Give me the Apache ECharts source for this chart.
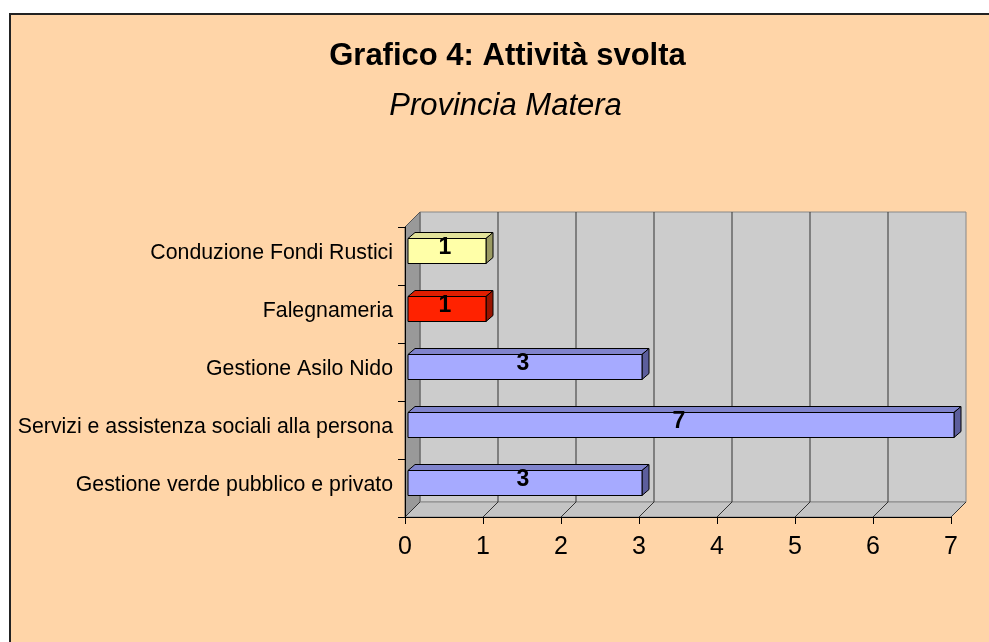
<!DOCTYPE html>
<html>
<head>
<meta charset="utf-8">
<script src="https://cdn.jsdelivr.net/npm/echarts@6/dist/echarts.min.js"></script>
<style>html,body{margin:0;padding:0;background:#fff}#c{width:989px;height:642px}</style>
</head>
<body>
<div id="c"></div>
<script>
const categories = ['Conduzione Fondi Rustici', 'Falegnameria', 'Gestione Asilo Nido', 'Servizi e assistenza sociali alla persona', 'Gestione verde pubblico e privato'];
const values = [1, 1, 3, 7, 3];
const titleText = 'Grafico 4: Attività svolta';
const subtitleText = 'Provincia Matera';

const faceFront = ['#FFFFA8', '#FF2200', '#A6AAFF', '#A6AAFF', '#A6AAFF'];
const faceTop = ['#E2E29A', '#E01E00', '#8084CC', '#8084CC', '#8084CC'];
const faceSide = ['#9A9A62', '#991400', '#5C5E9C', '#5C5E9C', '#5C5E9C'];

const FONT = '"Liberation Sans", Arial, sans-serif';
const D = 15;

const chart = echarts.init(document.getElementById('c'));
chart.setOption({
  backgroundColor: '#ffffff',
  animation: false,
  graphic: [{
    type: 'rect', z: -100, left: 9, top: 13,
    shape: { width: 1000, height: 650 },
    style: { fill: '#FFD5A8', stroke: '#222', lineWidth: 2 }
  }],
  title: [
    { text: titleText, left: 507.5, top: 41, textAlign: 'center', padding: 0,
      textStyle: { fontFamily: FONT, fontSize: 31, fontWeight: 'bold', color: '#000' } },
    { text: subtitleText, left: 505.5, top: 91, textAlign: 'center', padding: 0,
      textStyle: { fontFamily: FONT, fontSize: 31, fontStyle: 'italic', fontWeight: 'normal', color: '#000' } }
  ],
  grid: { left: 405, right: 38, top: 227, bottom: 125, containLabel: false },
  xAxis: {
    type: 'value', min: 0, max: 7, interval: 1, z: 10,
    axisLine: { show: true, lineStyle: { color: '#000', width: 1 } },
    axisTick: { show: true, length: 7, lineStyle: { color: '#000' } },
    splitLine: { show: false },
    axisLabel: { fontFamily: FONT, fontSize: 25, color: '#000', margin: 18 }
  },
  yAxis: {
    type: 'category', data: categories, inverse: true, z: 10,
    axisLine: { show: true, lineStyle: { color: '#000', width: 1 } },
    axisTick: { show: true, length: 7, lineStyle: { color: '#000' } },
    axisLabel: { fontFamily: FONT, fontSize: 21.3, color: '#000', margin: 12,
      verticalAlign: 'bottom', lineHeight: 6 }
  },
  series: [
    {
      type: 'custom', coordinateSystem: 'cartesian2d', clip: false, z: 1, silent: true,
      data: [[0, 0]],
      renderItem: function (params, api) {
        const cs = params.coordSys;
        const x = cs.x, y = cs.y, w = cs.width, h = cs.height;
        const children = [];
        children.push({ type: 'rect', shape: { x: x + D, y: y - D, width: w, height: h },
          style: { fill: '#CCCCCC', stroke: '#888888', lineWidth: 1 } });
        children.push({ type: 'polygon', shape: { points: [[x, y], [x + D, y - D], [x + D, y + h - D], [x, y + h]] },
          style: { fill: '#999999', stroke: '#555', lineWidth: 1 } });
        children.push({ type: 'polygon', shape: { points: [[x, y + h], [x + w, y + h], [x + w + D, y + h - D], [x + D, y + h - D]] },
          style: { fill: '#C4C4C4', stroke: '#888888', lineWidth: 1 } });
        for (let k = 0; k <= 7; k++) {
          const px = api.coord([k, 0])[0];
          if (k > 0 && k < 7) {
            children.push({ type: 'line', shape: { x1: px + D, y1: y - D, x2: px + D, y2: y + h - D },
              style: { stroke: '#333333', lineWidth: 1 } });
          }
          children.push({ type: 'line', shape: { x1: px, y1: y + h, x2: px + D, y2: y + h - D },
            style: { stroke: '#333333', lineWidth: 1 } });
        }
        return { type: 'group', children: children };
      }
    },
    {
      type: 'custom', coordinateSystem: 'cartesian2d', clip: false, z: 3,
      encode: { x: 0, y: 1 },
      data: values.map((v, i) => [v, i]),
      renderItem: function (params, api) {
        const v = api.value(0), i = api.value(1);
        const p0 = api.coord([0, i]);
        const p1 = api.coord([v, i]);
        const dx = 7, dy = 6, hh = 25;
        const x0 = p0[0] + 3, x1 = p1[0] + 3;
        const yc = p0[1] - 5;
        const yt = yc - hh / 2, yb = yc + hh / 2;
        return { type: 'group', children: [
          { type: 'polygon', shape: { points: [[x0, yt], [x0 + dx, yt - dy], [x1 + dx, yt - dy], [x1, yt]] },
            style: { fill: faceTop[i], stroke: '#000', lineWidth: 1 } },
          { type: 'polygon', shape: { points: [[x1, yt], [x1 + dx, yt - dy], [x1 + dx, yb - dy], [x1, yb]] },
            style: { fill: faceSide[i], stroke: '#000', lineWidth: 1 } },
          { type: 'rect', shape: { x: x0, y: yt, width: x1 - x0, height: hh },
            style: { fill: faceFront[i], stroke: '#000', lineWidth: 1 } },
          { type: 'text', style: { text: String(v), x: (x0 + x1) / 2 - 2, y: yc - 3, align: 'center', verticalAlign: 'middle',
            fontSize: 23, fontWeight: 'bold', fontFamily: FONT, fill: '#000' } }
        ] };
      }
    }
  ]
});
</script>
</body>
</html>
